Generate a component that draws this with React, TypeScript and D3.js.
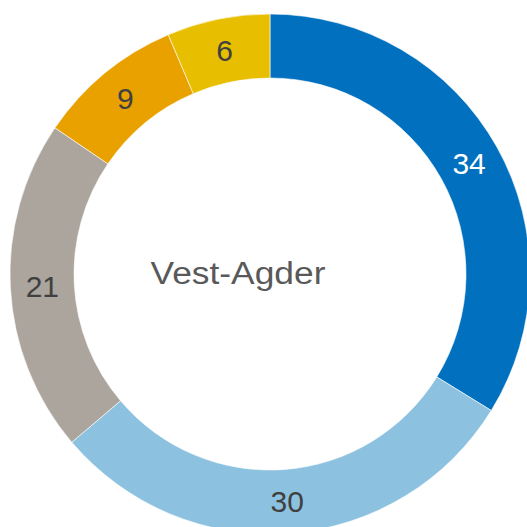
import React from "react";
import * as d3 from "d3";

const categories = ["A", "B", "C", "D", "E"];
const values = [33.8, 30.0, 20.7, 9.1, 6.4];
const labels = ["34", "30", "21", "9", "6"];
const colors = ["#0070BF", "#8CC2DF", "#ABA59E", "#E9A100", "#E8BE00"];
const labelColors = ["#FFFFFF", "#404040", "#404040", "#404040", "#404040"];
const title = "Vest-Agder";

export default function App() {
  const W = 527, H = 527;
  const cx = 270, cy = 274;
  const outerR = 260, innerR = 196;
  const pie = d3.pie<number>().sort(null).value((d) => d);
  const arcs = pie(values);
  const arc = d3.arc<d3.PieArcDatum<number>>().innerRadius(innerR).outerRadius(outerR);
  const labelArc = d3.arc<d3.PieArcDatum<number>>().innerRadius((innerR + outerR) / 2).outerRadius((innerR + outerR) / 2);
  return (
    <svg width={W} height={H} style={{ position: "absolute", left: 0, top: 0, fontFamily: "Liberation Sans, Arial, sans-serif" }}>
      <g transform={`translate(${cx},${cy})`}>
        {arcs.map((a, i) => (
          <path key={categories[i]} d={arc(a) || ""} fill={colors[i]} stroke="#fff" strokeWidth={0.6} />
        ))}
        {arcs.map((a, i) => {
          const [x, y] = labelArc.centroid(a);
          return (
            <text key={"l" + i} x={x} y={y} dy="0.36em" textAnchor="middle" fontSize={30} fill={labelColors[i]}>
              {labels[i]}
            </text>
          );
        })}
      </g>
      <text x={238} y={284} textAnchor="middle" fontSize={31} fill="#595959" textLength={175} lengthAdjust="spacingAndGlyphs">
        {title}
      </text>
    </svg>
  );
}
